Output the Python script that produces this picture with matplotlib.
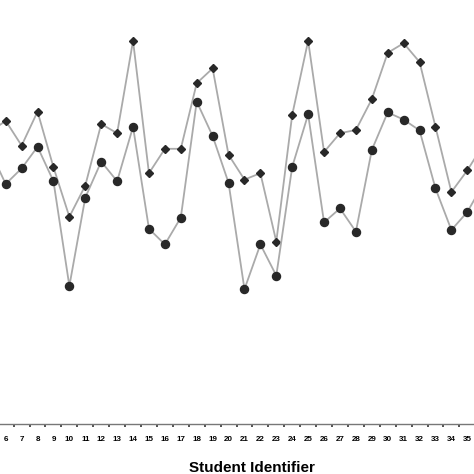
import numpy as np
import matplotlib
matplotlib.use("Agg")
import matplotlib.pyplot as plt

# student ids (5 and 36 sit just outside the visible crop)
students = list(range(5, 37))
upper = [73.0, 75.8, 69.6, 78.1, 64.2, 51.8, 59.6, 75.0, 72.7, 95.8, 62.7,
         68.8, 68.8, 85.2, 88.9, 67.3, 61.1, 62.7, 45.6, 77.3, 95.8, 68.0,
         72.7, 73.5, 81.2, 92.8, 95.2, 90.5, 74.3, 58.0, 63.4, 69.8]
lower = [68.5, 60.0, 63.9, 69.3, 60.7, 34.5, 56.6, 65.6, 60.7, 74.3, 48.8,
         44.9, 51.6, 80.6, 72.0, 60.3, 33.7, 44.9, 37.1, 64.3, 77.4, 50.4,
         53.9, 48.1, 68.5, 77.9, 76.1, 73.4, 58.9, 48.5, 53.0, 60.0]
tick_labels = [str(s) for s in range(6, 36)]

fig = plt.figure(figsize=(4.74, 4.74), dpi=100)
ax = fig.add_axes([0, 50 / 474, 1, 424 / 474])

line_col = "#aaaaaa"
mark_col = "#282828"
ax.plot(students, upper, color=line_col, lw=1.3, marker="D", ms=3.8,
        mfc=mark_col, mec=mark_col)
ax.plot(students, lower, color=line_col, lw=1.3, marker="o", ms=5.8,
        mfc=mark_col, mec=mark_col)

ax.set_xlim(5.642, 35.42)
ax.set_ylim(0, 106)

ax.set_xticks(range(6, 36))
ax.set_xticklabels(tick_labels, fontsize=5.8, fontweight="bold",
                   family="Liberation Sans")
ax.set_xticks(np.arange(6.5, 35.5, 1), minor=True)
ax.tick_params(axis="x", which="major", length=0, pad=8.5)
ax.tick_params(axis="x", which="minor", length=2.5, width=1.2,
               color="#333333", direction="out")
ax.set_yticks([])

for s in ["left", "top", "right"]:
    ax.spines[s].set_visible(False)
ax.spines["bottom"].set_color("#777777")
ax.spines["bottom"].set_linewidth(1.0)

fig.text(252 / 474, 1 - 468 / 474, "Student Identifier", ha="center",
         va="center", fontsize=11, fontweight="bold",
         family="Liberation Sans")

fig.savefig("out.png", dpi=100)
